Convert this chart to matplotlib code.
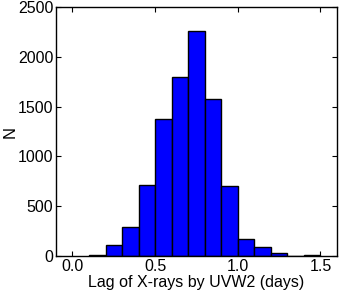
import numpy as np
import matplotlib
matplotlib.use("Agg")
import matplotlib.pyplot as plt

plt.rcParams['font.family'] = ['Liberation Sans', 'DejaVu Sans']

# histogram of lags (bin width 0.1 day)
bin_edges = [0.1, 0.2, 0.3, 0.4, 0.5, 0.6, 0.7, 0.8, 0.9, 1.0, 1.1, 1.2, 1.3, 1.4, 1.5]
counts = [15, 110, 294, 710, 1378, 1800, 2262, 1580, 703, 172, 87, 27, 5, 14]

xticks = [0.0, 0.5, 1.0, 1.5]
yticks = [0, 500, 1000, 1500, 2000, 2500]

fig = plt.figure(figsize=(3.41, 2.91), dpi=100)
ax = fig.add_axes([0.164, 0.120, 0.824, 0.856])

lefts = np.array(bin_edges[:-1])
widths = np.diff(bin_edges)
ax.bar(lefts, counts, width=widths, align='edge', color='#0000ff',
       edgecolor='black', linewidth=1.0)

ax.set_xlim(-0.1, 1.6)
ax.set_ylim(0, 2500)
ax.set_xticks(xticks)
ax.set_xticklabels(['0.0', '0.5', '1.0', '1.5'])
ax.set_yticks(yticks)
ax.tick_params(direction='in', top=True, right=True, length=3.5, width=0.8,
               labelsize=11.5, pad=2)
for s in ax.spines.values():
    s.set_linewidth(1.0)

ax.set_xlabel("Lag of X-rays by UVW2 (days)", fontsize=11.5, labelpad=1)
ax.set_ylabel("N", fontsize=12)
ax.yaxis.set_label_coords(-0.138, 0.5)

fig.savefig("out.png", dpi=100)
